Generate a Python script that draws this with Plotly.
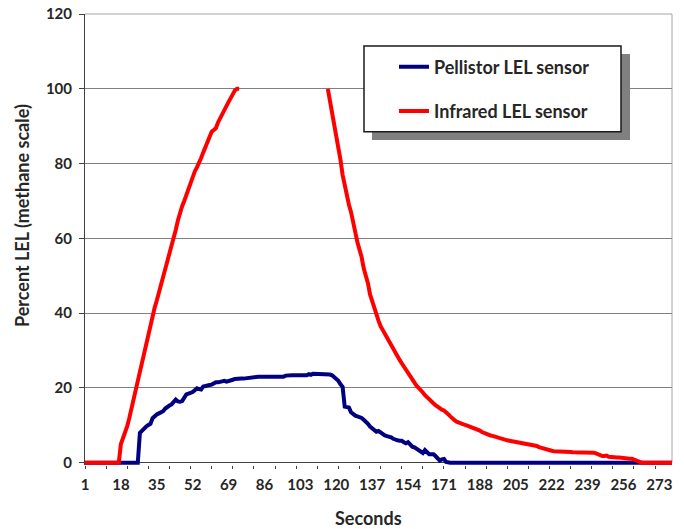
import plotly.graph_objects as go

# ---------------- data ----------------
seconds = list(range(1, 280))

pellistor_lel = [
    0, 0, 0, 0, 0, 0, 0, 0, 0, 0, 0, 0, 0, 0, 0, 0, 0, 0, 0, 0,
    0, 0, 0, 0, 0, 0,
    8.0, 8.7, 9.3, 9.7, 10.1, 10.4, 11.9, 12.5, 12.9, 13.2,
    13.5, 13.8, 14.5, 15.0, 15.3, 15.6, 16.5, 16.9, 16.4, 16.3,
    16.5, 17.6, 18.3, 18.5, 18.6, 18.9, 19.4, 19.9, 19.7, 19.6,
    20.4, 20.6, 20.7, 20.8, 20.9, 21.3, 21.5, 21.5, 21.6, 21.7,
    21.9, 21.7, 21.8, 22.0, 22.2, 22.4, 22.5, 22.5, 22.5, 22.5,
    22.6, 22.6, 22.7, 22.9,
    23.0, 23.0, 23.0, 23.0, 23.0, 23.0, 23.0, 23.0, 23.0, 23.0,
    23.0, 23.0, 23.0, 23.0, 23.0,
    23.3,
    23.4, 23.4, 23.4, 23.4, 23.4, 23.4, 23.4, 23.4, 23.4, 23.4,
    23.7, 23.5,
    23.8, 23.8, 23.8, 23.8, 23.8, 23.8, 23.8, 23.8,
    23.6, 23.4, 23.0, 22.5, 21.9, 21.0, 20.3, 15.0, 15.0, 14.8,
    13.5, 12.9, 12.6, 12.4, 12.3, 12.0, 11.5, 11.1, 10.4, 9.7,
    9.2, 8.6, 8.3, 8.5, 8.0, 7.5, 7.3, 7.1, 7.0, 6.8,
    6.4, 6.1, 6.0, 5.9, 5.9, 5.5, 5.2, 5.5, 4.8, 4.3,
    4.1, 3.8, 3.3, 2.9, 2.6, 3.4, 2.8, 2.3, 2.3, 2.3,
    1.8, 1.2, 0.6, 0.9, 1.0, 0.2,
    0, 0, 0, 0, 0, 0, 0, 0, 0, 0, 0, 0, 0, 0, 0, 0, 0, 0, 0, 0,
    0, 0, 0, 0, 0, 0, 0, 0, 0, 0, 0, 0, 0, 0, 0, 0, 0, 0, 0, 0,
    0, 0, 0, 0, 0, 0, 0, 0, 0, 0, 0, 0, 0, 0, 0, 0, 0, 0, 0, 0,
    0, 0, 0, 0, 0, 0, 0, 0, 0, 0, 0, 0, 0, 0, 0, 0, 0, 0, 0, 0,
    0, 0, 0, 0, 0, 0, 0, 0, 0, 0, 0, 0, 0, 0, 0, 0, 0, 0, 0, 0,
    0, 0, 0, 0, 0, 0, 0,
]

infrared_lel = [
    0, 0, 0, 0, 0, 0, 0, 0, 0, 0, 0, 0, 0, 0, 0, 0, 0,
    5.0, 6.5, 7.7, 9.8, 12.0, 14.5, 17.3, 19.9, 22.3, 24.7,
    27.3, 29.9, 32.5, 34.9, 37.1, 39.4, 41.5, 43.4, 45.5, 47.6,
    49.5, 51.1, 54.2, 56.0, 58.1, 60.2, 62.3, 64.8, 67.0, 68.6,
    70.0, 71.7, 73.3, 75.1, 77.0, 77.9, 79.0, 80.0, 81.5, 83.0,
    84.4, 86.0, 87.4, 88.5, 89.0, 89.5, 91.0, 92.2, 93.4, 94.4,
    95.5, 96.5, 97.5, 98.5, 99.6, 100, 100,
    None, None, None, None, None, None, None, None, None, None,
    None, None, None, None, None, None, None, None, None, None,
    None, None, None, None, None, None, None, None, None, None,
    None, None, None, None, None, None, None, None, None, None,
    None,
    100, 97, 94, 91, 87, 84, 81, 77, 74, 71.5,
    69, 67, 64, 61.5, 59, 57, 55, 52, 50, 48,
    45, 43, 41.5, 39.5, 38, 36.5, 35.5, 34, 33, 32,
    31, 30, 29.2, 28.4, 27.5, 26.6, 25.7, 24.8, 24, 23.1,
    22.2, 21.4, 20.6, 20, 19.5, 18.8, 18.1, 17.5, 16.8, 16.3,
    15.9, 15.4, 14.9, 14.5, 14.2, 14.0, 13.6, 13.0, 12.4, 11.8,
    11.4, 11.0, 10.7, 10.5, 10.3, 10.1, 9.9, 9.7, 9.6, 9.3,
    9.0, 8.8, 8.6, 8.2, 7.9, 7.6, 7.4, 7.3, 7.2, 7.0,
    6.8, 6.6, 6.5, 6.3, 6.1, 6.0, 5.9, 5.8, 5.7, 5.5,
    5.3, 5.2, 5.1, 5.0, 4.9, 4.8, 4.7, 4.7, 4.7, 4.5,
    4.2, 4.0, 3.8, 3.7, 3.5, 3.3, 3.2, 3.1, 3.1, 3.1,
    3.0, 3.0, 2.9, 2.9, 2.9, 2.9, 2.8, 2.8, 2.8, 2.8,
    2.9, 2.9, 2.8, 2.8, 2.8, 2.7, 2.7, 2.5, 2.2, 2.0,
    1.8, 1.8, 1.9, 1.6, 1.5, 1.5, 1.4, 1.4, 1.4, 1.3,
    1.2, 1.2, 1.1, 1.1, 1.1, 0.8, 0.6, 0.4, 0.2,
    0, 0, 0, 0, 0, 0, 0, 0, 0, 0, 0, 0, 0, 0, 0,
]

x_tick_values = [1, 18, 35, 52, 69, 86, 103, 120, 137, 154, 171, 188, 205, 222, 239, 256, 273]
x_tick_labels = ["1", "18", "35", "52", "69", "86", "103", "120", "137", "154",
                 "171", "188", "205", "222", "239", "256", "273"]
x_tick_marks = [1, 11, 21, 31, 41, 51, 61, 71, 81, 91, 101, 111, 121, 131, 141, 151,
                161, 171, 181, 191, 201, 211, 221, 231, 241, 251, 261, 271]
y_tick_values = [0, 20, 40, 60, 80, 100, 120]

series_names = ["Pellistor LEL sensor", "Infrared LEL sensor"]
series_colors = ["#000080", "#FF0000"]

# ---------------- layout geometry (pixels) ----------------
W, H = 684, 529
L, R, T, B = 85, 12, 14, 64
PW, PH = W - L - R, H - T - B


def px_x(p):
    return (p - L) / PW


def px_y(p):
    return (H - B - p) / PH


FONT = "Lato"
TXT = "#262626"

fig = go.Figure()
fig.add_trace(go.Scatter(
    x=seconds, y=pellistor_lel, mode="lines", name=series_names[0],
    line=dict(color=series_colors[0], width=4), legendgroup="g1",
))
fig.add_trace(go.Scatter(
    x=seconds, y=infrared_lel, mode="lines", name=series_names[1],
    line=dict(color=series_colors[1], width=4), legendgroup="g2",
    connectgaps=False,
))
# invisible trace to carry the tick-mark axis
fig.add_trace(go.Scatter(
    x=[seconds[0], seconds[-1]], y=[0, 0], mode="lines", xaxis="x2",
    line=dict(width=0), showlegend=False, hoverinfo="skip",
))

fig.update_layout(
    width=W, height=H,
    margin=dict(l=L, r=R, t=T, b=B, autoexpand=False),
    paper_bgcolor="white", plot_bgcolor="white",
    font=dict(family=FONT, color=TXT, size=15, weight="bold"),
    showlegend=True,
    legend=dict(
        x=px_x(394), y=px_y(48.5), xanchor="left", yanchor="top",
        bgcolor="rgba(0,0,0,0)", borderwidth=0,
        font=dict(family=FONT, size=18, color=TXT, weight="bold"),
        traceorder="grouped", tracegroupgap=18,
    ),
    xaxis=dict(
        range=[seconds[0], seconds[-1]], automargin=False,
        tickmode="array", tickvals=x_tick_values, ticktext=x_tick_labels,
        ticks="", showline=False, showgrid=False, zeroline=False,
        ticklabelstandoff=9,
        tickfont=dict(family=FONT, size=15, color=TXT, weight="bold"),
    ),
    xaxis2=dict(
        overlaying="x", anchor="y", side="bottom", automargin=False,
        range=[seconds[0], seconds[-1]],
        tickmode="array", tickvals=x_tick_marks, showticklabels=False,
        ticks="outside", ticklen=3, tickwidth=1, tickcolor="#404040",
        showline=False, showgrid=False, zeroline=False,
    ),
    yaxis=dict(
        range=[-0.6, 120], tickmode="array", tickvals=y_tick_values, automargin=False,
        ticks="outside", ticklen=5, tickwidth=1, tickcolor="#404040",
        showline=True, linecolor="#404040", linewidth=1,
        showgrid=True, gridcolor="#808080", gridwidth=1,
        zeroline=True, zerolinecolor="#404040", zerolinewidth=1,
        ticklabelstandoff=4,
        tickfont=dict(family=FONT, size=15, color=TXT, weight="bold"),
    ),
    shapes=[
        # plot-area border top / right (light grey)
        dict(type="line", xref="paper", yref="paper", x0=0, x1=1, y0=1, y1=1,
             line=dict(color="#A6A6A6", width=1), layer="below"),
        dict(type="line", xref="paper", yref="paper", x0=1, x1=1, y0=px_y(462.7), y1=1,
             line=dict(color="#A6A6A6", width=1), layer="below"),
        # legend shadow
        dict(type="rect", xref="paper", yref="paper",
             x0=px_x(372), x1=px_x(630), y0=px_y(140), y1=px_y(54),
             fillcolor="#808080", line=dict(width=0), layer="above"),
        # legend box
        dict(type="rect", xref="paper", yref="paper",
             x0=px_x(364), x1=px_x(621), y0=px_y(131.7), y1=px_y(46),
             fillcolor="white", line=dict(color="#1a1a1a", width=1.5), layer="above"),
    ],
    annotations=[
        dict(text="Seconds", xref="paper", yref="paper",
             x=px_x(368.5), y=px_y(518), xanchor="center", yanchor="middle",
             showarrow=False, font=dict(family=FONT, size=18, color=TXT, weight="bold")),
        dict(text="Percent LEL (methane scale)", xref="paper", yref="paper",
             x=px_x(22), y=px_y(216), xanchor="center", yanchor="middle", textangle=-90,
             showarrow=False, font=dict(family=FONT, size=18, color=TXT, weight="bold")),
    ],
)

fig.write_html(
    "out.html",
    config={"displayModeBar": False},
    post_script="document.body.style.margin='0';document.body.style.padding='0';",
)
